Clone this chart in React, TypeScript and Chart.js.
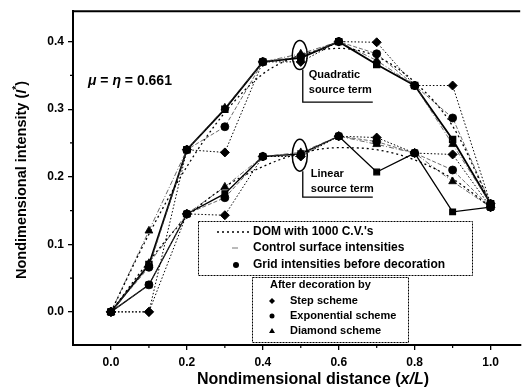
import React, { useEffect, useRef } from "react";
import { Chart, registerables } from "chart.js";

Chart.register(...registerables);

// ---- Data ----
const X_FACES = [0, 0.2, 0.4, 0.6, 0.8, 1.0];
const X_CENTERS = [0.1, 0.3, 0.5, 0.7, 0.9];
const X_DOM = [0, 0.1, 0.2, 0.3, 0.4, 0.5, 0.6, 0.7, 0.8, 0.9, 1.0];

// Quadratic source term
const QUAD_DOM = [0, 0.115, 0.215, 0.295, 0.352, 0.38, 0.39, 0.378, 0.34, 0.275, 0.16];
const QUAD_FACE = [0, 0.24, 0.37, 0.40, 0.335, 0.16];
const QUAD_GRID = [0.07, 0.30, 0.376, 0.366, 0.255];
const QUAD_STEP = [0.0, 0.236, 0.37, 0.399, 0.335];
const QUAD_EXP = [0.066, 0.274, 0.378, 0.382, 0.287];
const QUAD_DIAM = [0.12, 0.302, 0.382, 0.372, 0.248];

// Linear source term
const LIN_DOM = [0, 0.075, 0.14, 0.185, 0.215, 0.235, 0.243, 0.24, 0.225, 0.197, 0.155];
const LIN_FACE = [0, 0.145, 0.23, 0.26, 0.235, 0.155];
const LIN_GRID = [0.04, 0.175, 0.234, 0.207, 0.148];
const LIN_STEP = [0.0, 0.143, 0.23, 0.258, 0.233];
const LIN_EXP = [0.04, 0.169, 0.232, 0.252, 0.21];
const LIN_DIAM = [0.072, 0.185, 0.236, 0.248, 0.193];

const X_TICKS = [0, 0.2, 0.4, 0.6, 0.8, 1.0];
const Y_TICKS = [0, 0.1, 0.2, 0.3, 0.4];
const X_MINOR = [0.1, 0.3, 0.5, 0.7, 0.9];
const Y_MINOR = [0.05, 0.15, 0.25, 0.35];

const FONT = "'Liberation Sans', Arial, sans-serif";

const pts = (xs: number[], ys: number[]) => xs.map((x, i) => ({ x, y: ys[i] }));
const interleave = (faces: number[], centers: number[]) => {
  const out: { x: number; y: number }[] = [];
  for (let i = 0; i < X_FACES.length; i++) {
    out.push({ x: X_FACES[i], y: faces[i] });
    if (i < X_CENTERS.length) out.push({ x: X_CENTERS[i], y: centers[i] });
  }
  return out;
};

type Part = { t: string; italic?: boolean; sup?: boolean };
function drawRich(ctx: CanvasRenderingContext2D, parts: Part[], x: number, y: number, size: number, weight: string, align: "left" | "center") {
  const fontFor = (p: Part) => `${p.italic ? "italic " : ""}${weight} ${p.sup ? size * 0.7 : size}px ${FONT}`;
  let total = 0;
  for (const p of parts) {
    ctx.font = fontFor(p);
    total += ctx.measureText(p.t).width;
  }
  let cx = align === "center" ? x - total / 2 : x;
  ctx.textAlign = "left";
  ctx.textBaseline = "middle";
  for (const p of parts) {
    ctx.font = fontFor(p);
    ctx.fillText(p.t, cx, p.sup ? y - size * 0.35 : y);
    cx += ctx.measureText(p.t).width;
  }
}

const decorPlugin = {
  id: "decor",
  afterDraw(chart: any) {
    const ctx: CanvasRenderingContext2D = chart.ctx;
    const { left, right, top, bottom } = chart.chartArea;
    const xs = chart.scales.x;
    const ys = chart.scales.y;
    ctx.save();
    ctx.strokeStyle = "#000";
    ctx.fillStyle = "#000";

    // top frame
    ctx.lineWidth = 2;
    ctx.beginPath();
    ctx.moveTo(left, top);
    ctx.lineTo(right, top);
    ctx.stroke();

    // minor ticks
    ctx.lineWidth = 1.2;
    ctx.beginPath();
    for (const v of X_MINOR) {
      const px = xs.getPixelForValue(v);
      ctx.moveTo(px, bottom);
      ctx.lineTo(px, bottom + 3);
    }
    for (const v of Y_MINOR) {
      const py = ys.getPixelForValue(v);
      ctx.moveTo(left, py);
      ctx.lineTo(left - 3, py);
    }
    ctx.stroke();

    // ellipses
    const ex = xs.getPixelForValue(0.5);
    const eqy = ys.getPixelForValue(0.38);
    const ely = ys.getPixelForValue(0.232);
    ctx.lineWidth = 1.5;
    ctx.beginPath();
    ctx.ellipse(ex - 1, eqy, 7.5, 14.5, 0, 0, Math.PI * 2);
    ctx.stroke();
    ctx.beginPath();
    ctx.ellipse(ex - 1, ely, 7.5, 16, 0, 0, Math.PI * 2);
    ctx.stroke();

    // brackets
    ctx.lineWidth = 1.3;
    ctx.beginPath();
    ctx.moveTo(ex + 2, eqy + 14.5);
    ctx.lineTo(ex + 2, eqy + 47);
    ctx.lineTo(ex + 72, eqy + 47);
    ctx.moveTo(ex + 2, ely + 16);
    ctx.lineTo(ex + 2, ely + 42);
    ctx.lineTo(ex + 72, ely + 42);
    ctx.stroke();

    ctx.font = `bold 11px ${FONT}`;
    ctx.textAlign = "left";
    ctx.textBaseline = "middle";
    ctx.fillText("Quadratic", ex + 8, eqy + 20);
    ctx.fillText("source term", ex + 8, eqy + 35);
    ctx.fillText("Linear", ex + 10, ely + 19);
    ctx.fillText("source term", ex + 10, ely + 34);

    // mu = eta label
    drawRich(ctx, [
      { t: "μ", italic: true },
      { t: " = " },
      { t: "η", italic: true },
      { t: " = 0.661" },
    ], 88, 81, 14, "bold", "left");

    // axis titles
    drawRich(ctx, [
      { t: "Nondimensional distance (" },
      { t: "x/L", italic: true },
      { t: ")" },
    ], 313, 380, 16, "bold", "center");
    ctx.save();
    ctx.translate(22, 180);
    ctx.rotate(-Math.PI / 2);
    drawRich(ctx, [
      { t: "Nondimensional intensity (" },
      { t: "I", italic: true },
      { t: "*", sup: true },
      { t: ")" },
    ], 0, 0, 14.5, "bold", "center");
    ctx.restore();

    // legend box 1
    ctx.fillStyle = "#fff";
    ctx.fillRect(198, 221, 274, 54);
    ctx.strokeStyle = "#000";
    ctx.lineWidth = 1;
    ctx.setLineDash([2, 1]);
    ctx.strokeRect(198.5, 221.5, 274, 54);
    ctx.setLineDash([2, 3]);
    ctx.lineWidth = 1.5;
    ctx.beginPath();
    ctx.moveTo(217, 232);
    ctx.lineTo(250, 232);
    ctx.stroke();
    ctx.setLineDash([]);
    ctx.lineWidth = 1;
    ctx.strokeStyle = "#777";
    ctx.beginPath();
    ctx.moveTo(232, 248);
    ctx.lineTo(238, 248);
    ctx.stroke();
    ctx.fillStyle = "#000";
    ctx.beginPath();
    ctx.arc(236, 265, 3, 0, Math.PI * 2);
    ctx.fill();
    ctx.font = `bold 12px ${FONT}`;
    ctx.fillText("DOM with 1000 C.V.'s", 253, 232);
    ctx.fillText("Control surface intensities", 253, 248);
    ctx.fillText("Grid intensities before decoration", 253, 265);

    // legend box 2
    ctx.fillStyle = "#fff";
    ctx.fillRect(252, 277, 156, 65);
    ctx.strokeStyle = "#000";
    ctx.setLineDash([2, 1]);
    ctx.strokeRect(252.5, 277.5, 156, 65);
    ctx.setLineDash([]);
    ctx.fillStyle = "#000";
    ctx.font = `bold 11px ${FONT}`;
    ctx.fillText("After decoration by", 270, 285);
    ctx.fillText("Step scheme", 290, 301);
    ctx.fillText("Exponential scheme", 290, 316);
    ctx.fillText("Diamond scheme", 290, 331);
    // markers
    ctx.beginPath();
    ctx.moveTo(272, 298);
    ctx.lineTo(275, 301);
    ctx.lineTo(272, 304);
    ctx.lineTo(269, 301);
    ctx.closePath();
    ctx.fill();
    ctx.beginPath();
    ctx.arc(272, 316, 2.5, 0, Math.PI * 2);
    ctx.fill();
    ctx.beginPath();
    ctx.moveTo(272, 328);
    ctx.lineTo(275, 333);
    ctx.lineTo(269, 333);
    ctx.closePath();
    ctx.fill();

    ctx.restore();
  },
};

export default function App() {
  const ref = useRef<HTMLCanvasElement>(null);
  useEffect(() => {
    if (!ref.current) return;
    const mk = (label: string, data: any[], o: any) => ({
      label,
      data,
      borderColor: "#000",
      backgroundColor: "#000",
      pointBorderColor: "#000",
      pointBackgroundColor: "#000",
      borderWidth: 1,
      pointRadius: 0,
      tension: 0,
      ...o,
    });
    const domStyle = { borderDash: [2, 3], borderWidth: 1.3, cubicInterpolationMode: "monotone" };
    const gridStyle = { borderWidth: 1.8, pointStyle: "rect", pointRadius: 4 };
    const stepStyle = { borderDash: [1.5, 2], borderWidth: 1, pointStyle: "rectRot", pointRadius: 4.5 };
    const expStyle = { borderDash: [4, 2], borderWidth: 0.8, borderColor: "#444", pointStyle: "circle", pointRadius: 4 };
    const diamStyle = { borderDash: [5, 2, 1, 2], borderWidth: 0.8, borderColor: "#444", pointStyle: "triangle", pointRadius: 4.5 };
    const faceStyle = { showLine: false, pointStyle: "circle", pointRadius: 3.2, pointBackgroundColor: "#fff", pointBorderWidth: 1 };

    const chart = new Chart(ref.current, {
      type: "line",
      data: {
        datasets: [
          mk("Quad DOM", pts(X_DOM, QUAD_DOM), domStyle),
          mk("Lin DOM", pts(X_DOM, LIN_DOM), domStyle),
          mk("Quad step", interleave(QUAD_FACE, QUAD_STEP), stepStyle),
          mk("Lin step", interleave(LIN_FACE, LIN_STEP), stepStyle),
          mk("Quad exp", interleave(QUAD_FACE, QUAD_EXP), expStyle),
          mk("Lin exp", interleave(LIN_FACE, LIN_EXP), expStyle),
          mk("Quad diamond", interleave(QUAD_FACE, QUAD_DIAM), diamStyle),
          mk("Lin diamond", interleave(LIN_FACE, LIN_DIAM), diamStyle),
          mk("Quad grid", interleave(QUAD_FACE, QUAD_GRID), gridStyle),
          mk("Lin grid", interleave(LIN_FACE, LIN_GRID), { ...gridStyle, borderWidth: 1.3 }),
          mk("Quad faces", pts(X_FACES, QUAD_FACE), faceStyle),
          mk("Lin faces", pts(X_FACES, LIN_FACE), faceStyle),
        ] as any,
      },
      options: {
        animation: false,
        responsive: false,
        layout: { padding: { left: 0, right: 0, top: 11, bottom: 0 } },
        plugins: { legend: { display: false }, tooltip: { enabled: false } },
        scales: {
          x: {
            type: "linear",
            min: -0.1,
            max: 1.078,
            afterBuildTicks: (s: any) => {
              s.ticks = X_TICKS.map((v) => ({ value: v }));
            },
            afterFit: (s: any) => {
              s.height = 47;
            },
            ticks: {
              callback: (v: any) => Number(v).toFixed(1),
              color: "#000",
              font: { family: FONT, size: 12, weight: "bold" },
              padding: 5,
              maxRotation: 0,
            },
            grid: { drawOnChartArea: false, drawTicks: true, tickLength: 5, color: "#000", lineWidth: 1.3 },
            border: { color: "#000", width: 2 },
          },
          y: {
            type: "linear",
            min: -0.049,
            max: 0.445,
            afterBuildTicks: (s: any) => {
              s.ticks = Y_TICKS.map((v) => ({ value: v }));
            },
            afterFit: (s: any) => {
              s.width = 73;
            },
            ticks: {
              callback: (v: any) => Number(v).toFixed(1),
              color: "#000",
              font: { family: FONT, size: 12, weight: "bold" },
              padding: 4,
            },
            grid: { drawOnChartArea: false, drawTicks: true, tickLength: 5, color: "#000", lineWidth: 1.3 },
            border: { color: "#000", width: 2 },
          },
        },
      },
      plugins: [decorPlugin],
    });
    return () => chart.destroy();
  }, []);

  return (
    <div style={{ position: "absolute", left: 0, top: 0, width: 526, height: 392, background: "#fff" }}>
      <canvas ref={ref} width={526} height={392} style={{ display: "block" }} />
    </div>
  );
}
